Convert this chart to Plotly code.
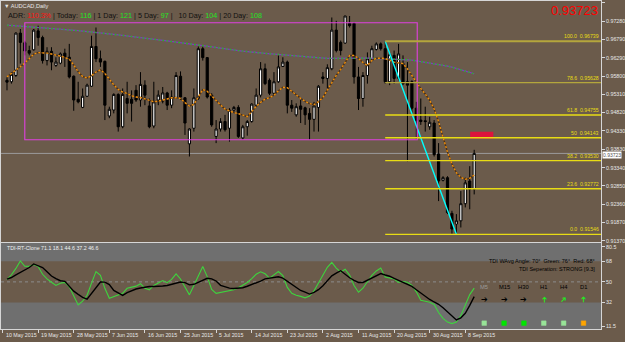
import plotly.graph_objects as go

# ---------------- data ----------------
opens = [.9569, .9565, .9582, .9696, .9670, .9649, .9651, .9702, .9684, .9622,
         .9647, .9609, .9615, .9642, .9631, .9580, .9518, .9496, .9526, .9553,
         .9660, .9627, .9620, .9473, .9489, .9531, .9444, .9520, .9518, .9542,
         .9516, .9556, .9500, .9446, .9516, .9513, .9535, .9502, .9523, .9580,
         .9522, .9398, .9440, .9520, .9654, .9630, .9529, .9418, .9438, .9458,
         .9440, .9489, .9496, .9414, .9444, .9458, .9502, .9529, .9600, .9569,
         .9534, .9565, .9606, .9618, .9502, .9476, .9500, .9495, .9480, .9464,
         .9496, .9578, .9574, .9600, .9704, .9671, .9669, .9722, .9722, .9578,
         .9520, .9582, .9627, .9652, .9667, .9654, .9565, .9636, .9574, .9614,
         .9565, .9565, .9494, .9462, .9460, .9444, .9454, .9371, .9300, .9307,
         .9211, .9182, .9191, .9237, .9298, .9276]
highs = [.9577, .9591, .9698, .9707, .9675, .9662, .9707, .9716, .9689, .9658,
         .9658, .9631, .9644, .9654, .9667, .9582, .9565, .9547, .9560, .9689,
         .9711, .9649, .9622, .9498, .9534, .9534, .9547, .9565, .9542, .9556,
         .9591, .9569, .9520, .9565, .9542, .9551, .9538, .9542, .9591, .9593,
         .9524, .9440, .9547, .9660, .9660, .9631, .9534, .9462, .9467, .9476,
         .9494, .9500, .9502, .9449, .9462, .9507, .9547, .9618, .9614, .9574,
         .9591, .9636, .9631, .9622, .9516, .9507, .9516, .9498, .9494, .9511,
         .9556, .9591, .9612, .9738, .9729, .9676, .9742, .9742, .9725, .9605,
         .9591, .9644, .9662, .9671, .9671, .96739, .9644, .9649, .9667, .9636,
         .9618, .9569, .9511, .9520, .9498, .9471, .9462, .9400, .9311, .9311,
         .9218, .9209, .9271, .9307, .9338, .9382]
lows = [.9542, .9560, .9578, .9614, .9636, .9636, .9649, .9662, .9614, .9609,
        .9596, .9605, .9612, .9605, .9574, .9487, .9507, .9494, .9524, .9551,
        .9618, .9605, .9462, .9467, .9480, .9431, .9440, .9480, .9458, .9511,
        .9498, .9502, .9440, .9440, .9502, .9507, .9489, .9494, .9520, .9516,
        .9422, .9364, .9431, .9516, .9622, .9520, .9444, .9400, .9431, .9431,
        .9404, .9484, .9414, .9409, .9420, .9455, .9498, .9523, .9556, .9529,
        .9529, .9562, .9605, .9480, .9484, .9471, .9454, .9449, .9409, .9431,
        .9431, .9560, .9547, .9596, .9644, .9636, .9667, .9711, .9560, .9489,
        .9498, .9560, .9622, .9649, .9649, .9560, .9556, .9560, .9569, .9556,
        .9351, .9476, .9409, .9449, .9431, .9436, .9364, .9244, .9297, .9209,
        .9156, .91546, .9173, .9227, .9222, .9262]
closes = [.9564, .9585, .9696, .9671, .9648, .9642, .9704, .9684, .9622, .9647,
          .9618, .9618, .9640, .9630, .9578, .9516, .9511, .9526, .9556, .9660,
          .9627, .9618, .9502, .9491, .9531, .9444, .9531, .9507, .9507, .9516,
          .9558, .9529, .9444, .9511, .9529, .9535, .9502, .9524, .9582, .9524,
          .9454, .9438, .9522, .9654, .9630, .9524, .9449, .9438, .9458, .9436,
          .9489, .9496, .9418, .9444, .9458, .9505, .9529, .9600, .9560, .9534,
          .9565, .9605, .9618, .9502, .9494, .9498, .9491, .9476, .9464, .9500,
          .9553, .9574, .9603, .9704, .9649, .9649, .9742, .9716, .9578, .9520,
          .9582, .9627, .9654, .9667, .9654, .9565, .9638, .9574, .9640, .9560,
          .9556, .9494, .9460, .9458, .9458, .9456, .9369, .9298, .9307, .9213,
          .9169, .9191, .9237, .9293, .9276, .93723]

ma_fast = [.95785, .95871, .95953, .96055, .96151, .96271, .96394, .96436, .96434, .96420,
           .96399, .96375, .96340, .96303, .96258, .96103, .95919, .95791, .95751, .95812,
           .95913, .95969, .95873, .95721, .95567, .95447, .95375, .95335, .95273, .95239,
           .95228, .95191, .95156, .95113, .95127, .95156, .95199, .95220, .95223, .95201,
           .95089, .94999, .95041, .95244, .95441, .95393, .95263, .95145, .95025, .94916,
           .94860, .94820, .94793, .94756, .94713, .94849, .94988, .95095, .95183, .95223,
           .95287, .95407, .95505, .95489, .95393, .95281, .95204, .95124, .95063, .95033,
           .95116, .95228, .95436, .95631, .95820, .95985, .96180, .96356, .96356, .96279,
           .96167, .96089, .96223, .96284, .96284, .96274, .96231, .96178, .96159, .96138,
           .95996, .95815, .95641, .95468, .95321, .95151, .94919, .94577, .94156, .93759,
           .93436, .93204, .93076, .93028, .93054, .93142]
ma_slow = [.97172, .97164, .97156, .97148, .97140, .97132, .97124, .97116, .97108, .97100,
           .97092, .97084, .97076, .97066, .97052, .97039, .97026, .97012, .97002, .96988,
           .96975, .96962, .96951, .96938, .96924, .96911, .96898, .96884, .96871, .96855,
           .96839, .96826, .96810, .96794, .96780, .96764, .96748, .96735, .96719, .96703,
           .96687, .96671, .96655, .96639, .96623, .96604, .96588, .96572, .96556, .96540,
           .96522, .96506, .96490, .96474, .96458, .96447, .96436, .96426, .96415, .96404,
           .96394, .96383, .96372, .96359, .96348, .96338, .96327, .96316, .96303, .96292,
           .96282, .96276, .96279, .96279, .96282, .96282, .96284, .96284, .96287, .96287,
           .96290, .96284, .96282, .96279, .96276, .96271, .96263, .96258, .96252, .96247,
           .96242, .96231, .96212, .96194, .96178, .96159, .96143, .96124, .96100, .96074,
           .96042, .96010, .95980, .95940, .95900, .95863]

tdi_green = [52.0, 56.2, 61.7, 68.2, 63.6, 63.5, 65.1, 63.3, 56.6, 52.6,
             49.7, 46.9, 48.8, 49.5, 45.7, 38.2, 29.9, 33.2, 38.4, 48.9,
             58.9, 55.7, 44.4, 35.7, 37.1, 38.2, 40.1, 44.4, 45.1, 46.3,
             48.4, 44.5, 43.1, 46.9, 49.0, 51.1, 49.3, 52.1, 57.0, 52.5,
             45.6, 38.7, 46.8, 55.1, 63.3, 54.6, 43.4, 40.0, 40.8, 41.6,
             42.1, 43.1, 44.9, 47.1, 49.5, 52.9, 56.6, 58.8, 57.0, 53.3,
             55.9, 59.0, 55.5, 45.2, 40.0, 38.3, 37.4, 36.1, 37.7, 42.2,
             49.1, 55.7, 62.7, 67.0, 62.0, 58.6, 61.0, 55.9, 46.8, 41.0,
             44.5, 50.1, 55.7, 59.5, 62.1, 54.3, 53.6, 52.5, 49.5, 50.3,
             49.7, 47.0, 41.3, 33.9, 33.1, 32.2, 30.4, 23.3, 18.3, 15.0,
             13.7, 15.1, 20.6, 30.1, 38.9, 44.6]
tdi_black = [52.4, 53.8, 56.1, 58.2, 60.1, 62.5, 65.6, 64.2, 62.5, 58.9,
             55.1, 52.8, 51.0, 50.5, 46.5, 41.9, 39.1, 36.6, 35.0, 40.2,
             45.1, 49.9, 49.8, 47.7, 42.5, 40.5, 38.3, 40.7, 42.5, 43.8,
             44.7, 45.5, 46.0, 46.0, 46.0, 46.4, 46.8, 48.0, 49.0, 49.9,
             49.4, 47.4, 47.9, 49.5, 51.2, 53.1, 52.6, 50.8, 47.0, 45.7,
             44.6, 44.3, 44.3, 44.9, 46.2, 47.5, 48.8, 50.7, 52.6, 53.3,
             53.9, 54.4, 53.3, 50.7, 47.9, 45.2, 42.5, 41.0, 39.4, 40.8,
             43.2, 46.7, 51.3, 55.2, 57.6, 59.7, 56.7, 53.6, 51.4, 49.5,
             49.5, 51.5, 53.4, 55.3, 57.2, 56.0, 54.9, 53.1, 51.2, 49.5,
             48.0, 46.0, 43.1, 40.1, 37.2, 34.7, 32.5, 30.5, 27.5, 23.7,
             19.8, 16.9, 18.7, 22.7, 29.5, 37.2]

date_tick_bars = [-1, 7, 15, 23, 31, 39, 47, 55, 63, 71, 79, 87, 95, 103]
date_tick_labels = ["10 May 2015", "19 May 2015", "28 May 2015", "7 Jun 2015",
                    "16 Jun 2015", "25 Jun 2015", "5 Jul 2015", "14 Jul 2015",
                    "23 Jul 2015", "2 Aug 2015", "11 Aug 2015", "20 Aug 2015",
                    "30 Aug 2015", "8 Sep 2015"]
price_ticks = [0.97770, 0.97280, 0.96790, 0.96290, 0.95800, 0.95310, 0.94820,
               0.94330, 0.93830, 0.93340, 0.92850, 0.92360, 0.91870, 0.91370]
tdi_ticks = [80.5, 68, 50, 32, 11.5]
tdi_tick_labels = ["80.5", "68", "50", "32", "11.5"]

fib_levels = [100.0, 78.6, 61.8, 50.0, 38.2, 23.6, 0.0]
fib_level_text = ["100.0", "78.6", "61.8", "50", "38.2", "23.6", "0.0"]
fib_high_bar = 85
fib_low_bar = 101

tdi_header_vals = [71.1, 18.1, 44.6, 37.2, 46.6]
tdi_angles = {"WAvg Angle": 70, "Green": 76, "Red": 68}
tdi_separation = ("STRONG", 9.3)
adr_pct = "110.3%"
adr_names = ["Today", "1 Day", "5 Day", "10 Day", "20 Day"]
adr_vals = [116, 121, 97, 104, 108]
tf_names = ["M5", "M15", "H30", "H1", "H4", "D1"]
tf_dirs = ["right", "right", "right", "up", "upright", "up"]
tf_square_colors = ["#98e498", "#00e600", "#00e600", "#98e498", "#98e498", "#ffa500"]

magenta_box = {"bar0": 4.0, "bar1": 92.2, "lo": 0.94090, "hi": 0.97237}
red_box = {"bar0": 104.1, "bar1": 109.3, "lo": 0.94117, "hi": 0.94303}

# ---------------- layout constants ----------------
W, H = 625, 342
PLOT_W = 601
BG = "#6b5b4b"
GREY = "#6f6f6f"
FONT = "Liberation Sans, Arial, sans-serif"
X_RANGE = [-1.346, 133.5]
MAIN_Y_RANGE = [0.913433, 0.978233]
SUB_Y_RANGE = [8.91, 83.95]

def px(x):
    return x / PLOT_W

def py(y):
    return 1 - y / H

bars = list(range(len(opens)))
last = closes[-1]

fig = go.Figure()

fig.add_trace(go.Candlestick(
    x=bars, open=opens, high=highs, low=lows, close=closes,
    increasing=dict(fillcolor="#ffffff", line=dict(color="#000000", width=1)),
    decreasing=dict(fillcolor="#000000", line=dict(color="#000000", width=1)),
    whiskerwidth=0, hoverinfo="skip", showlegend=False, xaxis="x", yaxis="y"))

# slow MA: purple with green dots
fig.add_trace(go.Scatter(x=bars, y=ma_slow, mode="lines",
                         line=dict(color="#8438c0", width=1.3),
                         hoverinfo="skip", showlegend=False, xaxis="x", yaxis="y"))
fig.add_trace(go.Scatter(x=bars, y=ma_slow, mode="lines",
                         line=dict(color="#2cb02c", width=1.3, dash="2px,2px"),
                         hoverinfo="skip", showlegend=False, xaxis="x", yaxis="y"))
# fast MA: dark with orange dots
fig.add_trace(go.Scatter(x=bars, y=ma_fast, mode="lines",
                         line=dict(color="#4a3018", width=1.4),
                         hoverinfo="skip", showlegend=False, xaxis="x", yaxis="y"))
fig.add_trace(go.Scatter(x=bars, y=ma_fast, mode="lines",
                         line=dict(color="#f0900c", width=1.4, dash="2px,2px"),
                         hoverinfo="skip", showlegend=False, xaxis="x", yaxis="y"))
# fib trend line
fig.add_trace(go.Scatter(x=[fib_high_bar, fib_low_bar],
                         y=[highs[fib_high_bar], lows[fib_low_bar]], mode="lines",
                         line=dict(color="#00ffff", width=1.4),
                         hoverinfo="skip", showlegend=False, xaxis="x", yaxis="y"))

# TDI
fig.add_trace(go.Scatter(x=bars, y=tdi_green, mode="lines",
                         line=dict(color="#3ed43e", width=1.1),
                         hoverinfo="skip", showlegend=False, xaxis="x2", yaxis="y2"))
fig.add_trace(go.Scatter(x=bars, y=tdi_black, mode="lines",
                         line=dict(color="#000000", width=1.4),
                         hoverinfo="skip", showlegend=False, xaxis="x2", yaxis="y2"))

shapes = []
# TDI grey bands and mid level
shapes.append(dict(type="rect", xref="x2 domain", yref="y2", x0=0, x1=1,
                   y0=tdi_ticks[1], y1=SUB_Y_RANGE[1], fillcolor=GREY,
                   line=dict(width=0), layer="below"))
shapes.append(dict(type="rect", xref="x2 domain", yref="y2", x0=0, x1=1,
                   y0=SUB_Y_RANGE[0], y1=tdi_ticks[3], fillcolor=GREY,
                   line=dict(width=0), layer="below"))
shapes.append(dict(type="line", xref="x2 domain", yref="y2", x0=0, x1=1,
                   y0=tdi_ticks[2], y1=tdi_ticks[2],
                   line=dict(color="#8c8c8c", width=1, dash="dot"), layer="below"))
# current price line
shapes.append(dict(type="line", xref="x domain", yref="y", x0=0, x1=1,
                   y0=last, y1=last, line=dict(color="#9a9a9a", width=1), layer="below"))
# magenta box
shapes.append(dict(type="rect", xref="x", yref="y",
                   x0=magenta_box["bar0"], x1=magenta_box["bar1"],
                   y0=magenta_box["lo"], y1=magenta_box["hi"],
                   line=dict(color="#e040e0", width=1.1), fillcolor="rgba(0,0,0,0)",
                   layer="above"))
# red box
shapes.append(dict(type="rect", xref="x", yref="y",
                   x0=red_box["bar0"], x1=red_box["bar1"],
                   y0=red_box["lo"], y1=red_box["hi"],
                   line=dict(width=0), fillcolor="#dc143c", layer="above"))

annotations = []
fib_hi = highs[fib_high_bar]
fib_lo = lows[fib_low_bar]
for lvl, txt in zip(fib_levels, fib_level_text):
    price = fib_lo + (fib_hi - fib_lo) * lvl / 100.0
    col = "#b4a63c" if lvl >= 78 else "#e8dc14"
    wid = 2 if lvl == 100.0 else 1.4
    shapes.append(dict(type="line", xref="x", yref="y", x0=fib_high_bar, x1=X_RANGE[1],
                       y0=price, y1=price, line=dict(color=col, width=wid), layer="above"))
    annotations.append(dict(x=px(600.5), y=price, xref="paper", yref="y",
                            text="%s&nbsp; %.5f" % (txt, price), showarrow=False,
                            xanchor="right", yanchor="bottom",
                            font=dict(family=FONT, size=5.2, color="#e8dc14")))

# current price box on axis
annotations.append(dict(x=1, y=last, xref="paper", yref="y", text="%.5f" % last,
                        showarrow=False, xanchor="left", yanchor="middle",
                        bgcolor="#ffffff", borderpad=0, xshift=1, yshift=-1.2,
                        font=dict(family=FONT, size=5.0, color="#505050")))
# big red price
annotations.append(dict(x=px(600), y=py(10), xref="paper", yref="paper",
                        text="%.5f" % last, showarrow=False, xanchor="right",
                        yanchor="middle", font=dict(family=FONT, size=13, color="#ff0000")))
# title
annotations.append(dict(x=px(1.5), y=py(5.3), xref="paper", yref="paper",
                        text="\u25bc AUDCAD,Daily", showarrow=False, xanchor="left",
                        yanchor="middle", font=dict(family=FONT, size=5.6, color="#e6e6e6")))
# ADR line
parts = ['<span style="color:#101010">ADR: </span>',
         '<span style="color:#ff1010">%s</span>' % adr_pct]
for n, v in zip(adr_names, adr_vals):
    sep = " |&nbsp;  " if n == "10 Day" else " | "
    parts.append('<span style="color:#101010">%s%s: </span>' % (sep, n))
    parts.append('<span style="color:#22e622">%d</span>' % v)
annotations.append(dict(x=px(5.5), y=py(14.7), xref="paper", yref="paper",
                        text="".join(parts), showarrow=False, xanchor="left",
                        yanchor="middle", font=dict(family=FONT, size=7.2)))

# TDI header
annotations.append(dict(x=px(4.5), y=py(249.5), xref="paper", yref="paper",
                        text="TDI-RT-Clone " + " ".join("%.1f" % v for v in tdi_header_vals),
                        showarrow=False, xanchor="left", yanchor="middle",
                        font=dict(family=FONT, size=5.3, color="#f0f0f0")))
annotations.append(dict(x=px(597), y=py(262.5), xref="paper", yref="paper",
                        text="TDI %s: %d\u00b0  Green: %d\u00b0  Red: %d\u00b0" % (
                            "WAvg Angle", tdi_angles["WAvg Angle"], tdi_angles["Green"],
                            tdi_angles["Red"]),
                        showarrow=False, xanchor="right", yanchor="middle",
                        font=dict(family=FONT, size=5.5, color="#000000")))
annotations.append(dict(x=px(597), y=py(270.5), xref="paper", yref="paper",
                        text="TDI Seperation: %s [%.1f]" % tdi_separation,
                        showarrow=False, xanchor="right", yanchor="middle",
                        font=dict(family=FONT, size=5.5, color="#000000")))

# timeframe panel
arrow_angle = {"right": 0, "up": -90, "upright": -45}
for k, (name, d, sq) in enumerate(zip(tf_names, tf_dirs, tf_square_colors)):
    cx = 484.0 + 19.9 * k
    annotations.append(dict(x=px(cx), y=py(288.3), xref="paper", yref="paper",
                            text=name, showarrow=False, xanchor="center", yanchor="middle",
                            font=dict(family=FONT, size=5.8,
                                      color="#9a9a9a" if k == 0 else "#000000")))
    acol = "#000000" if d == "right" else "#22ee22"
    annotations.append(dict(x=px(cx), y=py(300.8), xref="paper", yref="paper",
                            text="\u2794", showarrow=False, xanchor="center", yanchor="middle",
                            textangle=arrow_angle[d],
                            font=dict(family="DejaVu Sans", size=8, color=acol)))
    shapes.append(dict(type="rect", xref="paper", yref="paper",
                       x0=px(cx - 2.3), x1=px(cx + 2.3), y0=py(327.3), y1=py(322.7),
                       fillcolor=sq, line=dict(color=sq, width=0.5), layer="above"))

# date labels (left aligned after tick)
for b, lab in zip(date_tick_bars, date_tick_labels):
    annotations.append(dict(x=b, y=py(336.8), xref="x2", yref="paper", text=lab,
                            showarrow=False, xanchor="left", yanchor="middle", xshift=1,
                            font=dict(family=FONT, size=5.3, color="#e8e8e8")))

axis_common = dict(showgrid=False, zeroline=False, showline=True, mirror=True,
                   linecolor="#d6d6d6", linewidth=1)

fig.update_layout(
    width=W, height=H, margin=dict(l=0, r=W - PLOT_W, t=0, b=0),
    paper_bgcolor=BG, plot_bgcolor=BG, showlegend=False,
    xaxis=dict(domain=[0, 1], range=X_RANGE, anchor="y", showticklabels=False,
               ticks="", rangeslider=dict(visible=False), **axis_common),
    yaxis=dict(domain=[1 - 243 / H, 1], range=MAIN_Y_RANGE, anchor="x", side="right",
               tickvals=price_ticks, ticktext=["%.5f" % v for v in price_ticks],
               ticks="outside", ticklen=3, tickcolor="#d6d6d6",
               tickfont=dict(family=FONT, size=5.3, color="#e8e8e8"), **axis_common),
    xaxis2=dict(domain=[0, 1], range=X_RANGE, anchor="y2", matches="x",
                tickvals=date_tick_bars, ticks="outside", ticklen=3, tickcolor="#d6d6d6",
                showticklabels=False, rangeslider=dict(visible=False), **axis_common),
    yaxis2=dict(domain=[1 - 331 / H, 1 - 244 / H], range=SUB_Y_RANGE, anchor="x2",
                side="right", tickvals=tdi_ticks, ticktext=tdi_tick_labels,
                ticks="outside", ticklen=3, tickcolor="#d6d6d6",
                tickfont=dict(family=FONT, size=5.3, color="#e8e8e8"), **axis_common),
    shapes=shapes, annotations=annotations,
)

fig.write_html("out.html")
